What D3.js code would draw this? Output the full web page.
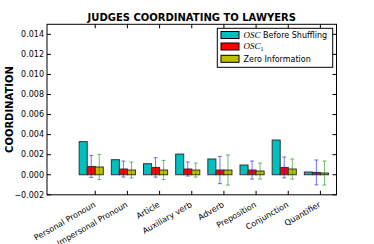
<!DOCTYPE html>
<html><head><meta charset="utf-8">
<script src="https://cdn.jsdelivr.net/npm/d3@7"></script>
<style>body{margin:0;background:#fff}svg{display:block}text{font-family:"DejaVu Sans",sans-serif}</style>
</head><body><svg id="c" width="374" height="244"></svg>
<script>
const categories = ["Personal Pronoun","Impersonal Pronoun","Article","Auxiliary verb","Adverb","Preposition","Conjunction","Quantifier"];
const oscBefore = [0.0033,0.0015,0.0011,0.00206,0.00157,0.00097,0.00346,0.00027];
const osc1 = [0.00083,0.00057,0.00073,0.00057,0.00047,0.00047,0.00073,0.00023];
const osc1Err = [0.0011,0.0008,0.00097,0.0007,0.00136,0.0009,0.00104,0.00124];
const zeroInfo = [0.00077,0.00047,0.00047,0.00047,0.00047,0.00037,0.00057,0.00017];
const zeroInfoErr = [0.00126,0.0008,0.00096,0.0007,0.0015,0.0008,0.001,0.0012];
const yTicks = [-0.002,0,0.002,0.004,0.006,0.008,0.010,0.012,0.014];
const legendLabels = ["Before Shuffling","","Zero Information"];

const svg = d3.select("#c");
const L=47, R=336.5, T=24.3, B=194.8;
const x = d3.scaleLinear().domain([0,9]).range([L,R]);
const y = d3.scaleLinear().domain([-0.002,0.015]).range([B,T]);
const w = 0.25;
const colors = ["#00bfbf","#ff0000","#bfbf00"];
const series = [oscBefore, osc1, zeroInfo];

const g = svg.append("g");
series.forEach((s,k)=>{
  g.selectAll(null).data(s).enter().append("rect")
    .attr("x",(d,i)=>x(i+1+k*w)).attr("width",x(w)-x(0))
    .attr("y",d=>y(Math.max(d,0))).attr("height",d=>Math.abs(y(d)-y(0)))
    .attr("fill",colors[k]).attr("stroke","#333").attr("stroke-width",1);
});
function errbars(vals, errs, k, color){
  vals.forEach((v,i)=>{
    const cx = x(i+1+k*w+w/2);
    const eg = g.append("g").attr("stroke",color).attr("stroke-opacity",0.55).attr("stroke-width",1);
    eg.append("line").attr("x1",cx).attr("x2",cx).attr("y1",y(v-errs[i])).attr("y2",y(v+errs[i]));
    [v-errs[i], v+errs[i]].forEach(e=>eg.append("line").attr("x1",cx-2).attr("x2",cx+2).attr("y1",y(e)).attr("y2",y(e)));
  });
}
errbars(osc1, osc1Err, 1, "#0000ff");
errbars(zeroInfo, zeroInfoErr, 2, "#008000");

// frame
svg.append("rect").attr("x",L).attr("y",T).attr("width",R-L).attr("height",B-T).attr("fill","none").attr("stroke","#000").attr("stroke-width",1);

// y ticks
const fmt = d=> (d<0?"\u2212":"") + d3.format(".3f")(Math.abs(d));
yTicks.forEach(t=>{
  const yy=y(t);
  svg.append("line").attr("x1",L).attr("x2",L+4).attr("y1",yy).attr("y2",yy).attr("stroke","#000");
  svg.append("line").attr("x1",R-4).attr("x2",R).attr("y1",yy).attr("y2",yy).attr("stroke","#000");
  svg.append("text").attr("x",L-3).attr("y",yy).attr("dy","0.35em").attr("text-anchor","end").attr("font-size",8).text(fmt(t));
});
// x ticks
categories.forEach((c,i)=>{
  const xx = x(i+1+2*w);
  svg.append("line").attr("x1",xx).attr("x2",xx).attr("y1",B).attr("y2",B-4).attr("stroke","#000");
  svg.append("line").attr("x1",xx).attr("x2",xx).attr("y1",T).attr("y2",T+4).attr("stroke","#000");
  svg.append("text").attr("transform",`translate(${xx-2},${B+6.5}) rotate(-30)`)
    .attr("text-anchor","end").attr("dy","0.7em").attr("font-size",8).text(c);
});

// title & ylabel
svg.append("text").attr("x",(L+R)/2).attr("y",T-3).attr("text-anchor","middle").attr("font-size",10).attr("font-weight","bold").text("JUDGES COORDINATING TO LAWYERS");
svg.append("text").attr("transform",`translate(13,${(T+B)/2}) rotate(-90)`).attr("text-anchor","middle").attr("font-size",10).attr("font-weight","bold").text("COORDINATION");

// legend
const lg = svg.append("g");
lg.append("rect").attr("x",217.3).attr("y",28.3).attr("width",115.4).attr("height",39).attr("fill","#fff").attr("stroke","#000").attr("stroke-width",1);
const rows=[35,46.5,58.8];
rows.forEach((ry,k)=>{
  lg.append("rect").attr("x",221).attr("y",ry-3.5).attr("width",18).attr("height",7).attr("fill",colors[k]).attr("stroke","#000").attr("stroke-width",1);
});
const t1 = lg.append("text").attr("x",243.5).attr("y",rows[0]).attr("dy","0.35em").attr("font-size",8);
t1.append("tspan").attr("font-family","Liberation Serif,serif").attr("font-style","italic").attr("font-size",9).text("OSC");
t1.append("tspan").text(" "+legendLabels[0]);
const t2 = lg.append("text").attr("x",243.5).attr("y",rows[1]).attr("dy","0.35em").attr("font-size",8);
t2.append("tspan").attr("font-family","Liberation Serif,serif").attr("font-style","italic").attr("font-size",9).text("OSC");
t2.append("tspan").attr("font-family","Liberation Serif,serif").attr("font-size",6).attr("dy",2).text("1");
lg.append("text").attr("x",243.5).attr("y",rows[2]).attr("dy","0.35em").attr("font-size",8).text(legendLabels[2]);
</script></body></html>
